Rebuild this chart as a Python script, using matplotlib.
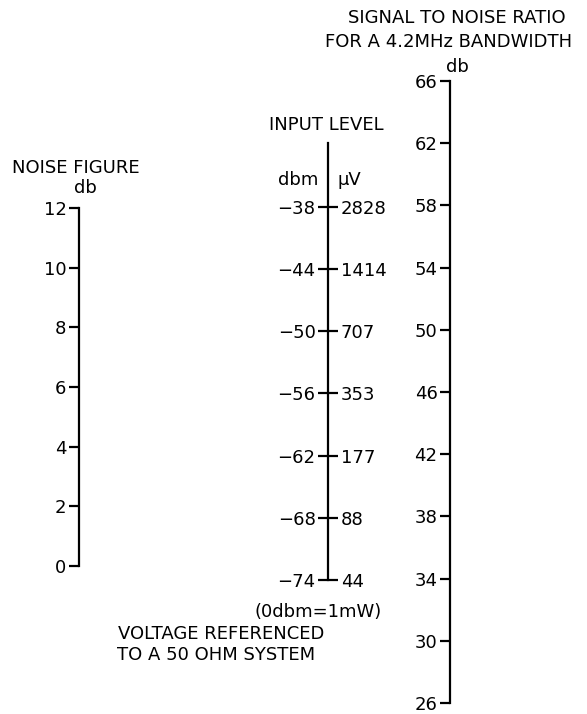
import numpy as np
import matplotlib.pyplot as plt

# nomograph scales
noise_db = [0, 2, 4, 6, 8, 10, 12]
input_dbm = [-74, -68, -62, -56, -50, -44, -38]
input_uv = ['44', '88', '177', '353', '707', '1414', '2828']
snr_db = [26, 30, 34, 38, 42, 46, 50, 54, 58, 62, 66]

W, H = 587, 714
fig = plt.figure(figsize=(W / 100, H / 100), dpi=100, facecolor='w')
FS = 13
LW = 1.6


def rect(x, y_top, y_bot):
    # pixel coords -> figure fraction, very thin axes at x
    return [x / W, 1 - y_bot / H, 0.0005, (y_bot - y_top) / H]


def scale_axes(x, y_top, y_bot, lim, ticks, labels=None):
    ax = fig.add_axes(rect(x, y_top, y_bot))
    ax.set_ylim(*lim)
    ax.set_xticks([])
    for s in ['top', 'right', 'bottom']:
        ax.spines[s].set_visible(False)
    ax.spines['left'].set_linewidth(LW)
    ax.set_yticks(ticks)
    if labels is not None:
        ax.set_yticklabels(labels)
    ax.tick_params(axis='y', direction='out', length=7, width=LW,
                   labelsize=FS, pad=2)
    ax.patch.set_visible(False)
    return ax


def ptext(x, y, s, **kw):
    fig.text(x / W, 1 - y / H, s, fontsize=FS, ha='center', va='center', **kw)


# noise figure
scale_axes(79, 208, 566, (0, 12), noise_db)
ptext(76, 168, 'NOISE FIGURE')
ptext(85, 188, 'db')

# input level, dbm on the left, microvolts on the right
top = -74 + (580 - 143) / 62.2 * 6
ax_in = scale_axes(328, 143, 580, (-74, top), input_dbm)
ax_uv = ax_in.twinx()
ax_uv.set_ylim(-74, top)
for s in ax_uv.spines.values():
    s.set_visible(False)
ax_uv.set_yticks(input_dbm)
ax_uv.set_yticklabels(input_uv)
ax_uv.tick_params(axis='y', direction='out', length=7, width=LW,
                  labelsize=FS, pad=2)
ptext(326, 125, 'INPUT LEVEL')
ptext(298, 180, 'dbm')
ptext(349, 180, 'µV')
ptext(318, 612, '(0dbm=1mW)')
ptext(221, 634, 'VOLTAGE REFERENCED')
ptext(216, 655, 'TO A 50 OHM SYSTEM')

# signal to noise ratio
scale_axes(450, 81, 703, (26, 66), snr_db)
ptext(457, 18, 'SIGNAL TO NOISE RATIO')
ptext(449, 42, 'FOR A 4.2MHz BANDWIDTH')
ptext(457, 67, 'db')

fig.savefig('out.png', dpi=100, facecolor='w')
